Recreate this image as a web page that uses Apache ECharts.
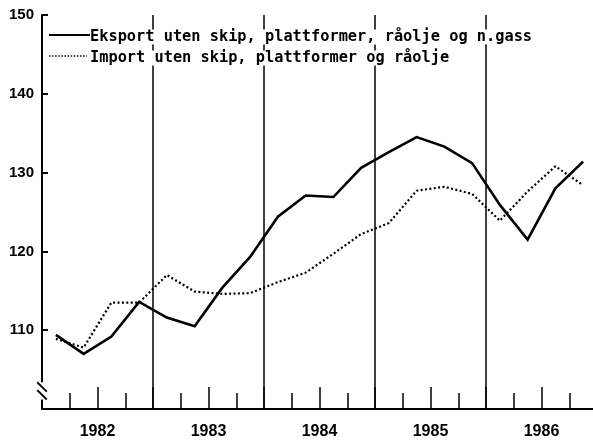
<!DOCTYPE html>
<html>
<head>
<meta charset="utf-8">
<script src="https://cdn.jsdelivr.net/npm/echarts@6/dist/echarts.min.js"></script>
<style>
  html, body { margin: 0; padding: 0; background: #fff; }
  #c { width: 593px; height: 441px; }
</style>
</head>
<body>
<div id="c"></div>
<script>
// Quarterly index values, 1982 K1 – 1986 K4
const periods = [
  '1982K1', '1982K2', '1982K3', '1982K4',
  '1983K1', '1983K2', '1983K3', '1983K4',
  '1984K1', '1984K2', '1984K3', '1984K4',
  '1985K1', '1985K2', '1985K3', '1985K4',
  '1986K1', '1986K2', '1986K3', '1986K4'
];
const eksport = [
  109.4, 107.0, 109.2, 113.6,
  111.6, 110.5, 115.4, 119.3,
  124.4, 127.1, 126.9, 130.6,
  132.6, 134.5, 133.3, 131.2,
  125.9, 121.5, 128.0, 131.4
];
const importVerdier = [
  108.9, 107.8, 113.5, 113.5,
  117.0, 114.9, 114.6, 114.7,
  116.1, 117.3, 119.7, 122.2,
  123.6, 127.7, 128.2, 127.3,
  123.9, 127.6, 130.8, 128.4
];
const yearLabels = ['1982', '1983', '1984', '1985', '1986'];
const yTicks = [110, 120, 130, 140, 150];
const seriesNames = [
  'Eksport uten skip, plattformer, råolje og n.gass',
  'Import uten skip, plattformer og råolje'
];

// A quarter is placed at the middle of its span on a continuous year scale
function periodToX(p) {
  const [y, q] = p.split('K');
  return Number(y) + (Number(q) - 0.5) / 4;
}
const toPairs = vals => periods.map((p, i) => [periodToX(p), vals[i]]);

const firstYear = Number(yearLabels[0]);
const lastYear = Number(yearLabels[yearLabels.length - 1]) + 1;

const labelFont = { fontFamily: 'Liberation Sans', fontWeight: 'bold', color: '#000' };
const legendFont = 'bold 15.3px "DejaVu Sans Mono"';

const chart = echarts.init(document.getElementById('c'), null, { renderer: 'canvas' });

// The plot area runs a little past the right edge of the canvas
chart.setOption({
  animation: false,
  backgroundColor: '#fff',
  grid: { left: 42, width: 555, top: 15, bottom: 32, containLabel: false, outerBoundsMode: 'none' },
  xAxis: [
    {
      // axis line, half-year ticks and year labels
      type: 'value', position: 'bottom', min: firstYear, max: lastYear, interval: 0.5,
      axisLine: { show: true, lineStyle: { color: '#000', width: 2 } },
      axisTick: { show: true, inside: true, length: 22, lineStyle: { color: '#000', width: 1.5 } },
      axisLabel: {
        show: true, margin: 15, fontSize: 16, ...labelFont,
        formatter: v => {
          const y = Math.floor(v + 1e-9);
          return (Math.abs(v - y - 0.5) < 1e-6 && yearLabels.includes(String(y))) ? String(y) : '';
        }
      },
      splitLine: { show: false }
    },
    {
      // quarter ticks
      type: 'value', position: 'bottom', min: firstYear, max: lastYear, interval: 0.25,
      axisLine: { show: false },
      axisTick: { show: true, inside: true, length: 16, lineStyle: { color: '#000', width: 1.5 } },
      axisLabel: { show: false },
      splitLine: { show: false }
    },
    {
      // year boundary lines
      type: 'value', position: 'bottom', min: firstYear, max: lastYear, interval: 1,
      axisLine: { show: false }, axisTick: { show: false }, axisLabel: { show: false },
      splitLine: { show: true, showMinLine: false, showMaxLine: false, lineStyle: { color: '#000', width: 1.5 } }
    }
  ],
  yAxis: {
    type: 'value', min: 100, max: yTicks[yTicks.length - 1], interval: 10,
    axisLine: { show: true, lineStyle: { color: '#000', width: 2 } },
    axisTick: { show: true, inside: true, length: 6, lineStyle: { color: '#000', width: 2 } },
    axisLabel: {
      show: true, margin: 8, fontSize: 15, ...labelFont,
      formatter: v => yTicks.includes(v) ? String(v) : ''
    },
    splitLine: { show: false }
  },
  series: [
    {
      name: seriesNames[1], type: 'line', xAxisIndex: 0, data: toPairs(importVerdier),
      symbol: 'none', z: 3,
      lineStyle: { color: '#000', width: 2.2, type: [2, 2.4], cap: 'butt' }
    },
    {
      name: seriesNames[0], type: 'line', xAxisIndex: 0, data: toPairs(eksport),
      symbol: 'none', z: 4,
      lineStyle: { color: '#000', width: 2.6, join: 'miter' }
    }
  ],
  graphic: [
    { id: 'lg0line', type: 'line', z: 100, shape: { x1: 49, y1: 35, x2: 90, y2: 35 },
      style: { stroke: '#000', lineWidth: 2 } },
    { id: 'lg0text', type: 'text', z: 100, x: 90, y: 37,
      style: { text: seriesNames[0], font: legendFont, fill: '#000', verticalAlign: 'middle', backgroundColor: '#fff' } },
    { id: 'lg1line', type: 'line', z: 100, shape: { x1: 49, y1: 56, x2: 87, y2: 56 },
      style: { stroke: '#000', lineWidth: 1.3, lineDash: [1.5, 1.6] } },
    { id: 'lg1text', type: 'text', z: 100, x: 90, y: 58,
      style: { text: seriesNames[1], font: legendFont, fill: '#000', verticalAlign: 'middle', backgroundColor: '#fff' } }
  ]
});

// Axis break mark on the value axis, just above its lower end
const ax = chart.convertToPixel({ xAxisIndex: 0 }, firstYear);
const c1 = chart.convertToPixel({ yAxisIndex: 0 }, 102.8);
const c2 = chart.convertToPixel({ yAxisIndex: 0 }, 101.8);
const h = 4.7;
chart.setOption({
  graphic: [
    { id: 'brkGap', type: 'rect', z: 101, shape: { x: ax - 2.5, y: c1 - h, width: 5, height: (c2 + h) - (c1 - h) },
      style: { fill: '#fff' } },
    { id: 'brk1', type: 'line', z: 102, shape: { x1: ax - 4.8, y1: c1 - h, x2: ax + 4.8, y2: c1 + h },
      style: { stroke: '#000', lineWidth: 1.8 } },
    { id: 'brk2', type: 'line', z: 102, shape: { x1: ax - 4.8, y1: c2 - h, x2: ax + 4.8, y2: c2 + h },
      style: { stroke: '#000', lineWidth: 1.8 } }
  ]
});
</script>
</body>
</html>
